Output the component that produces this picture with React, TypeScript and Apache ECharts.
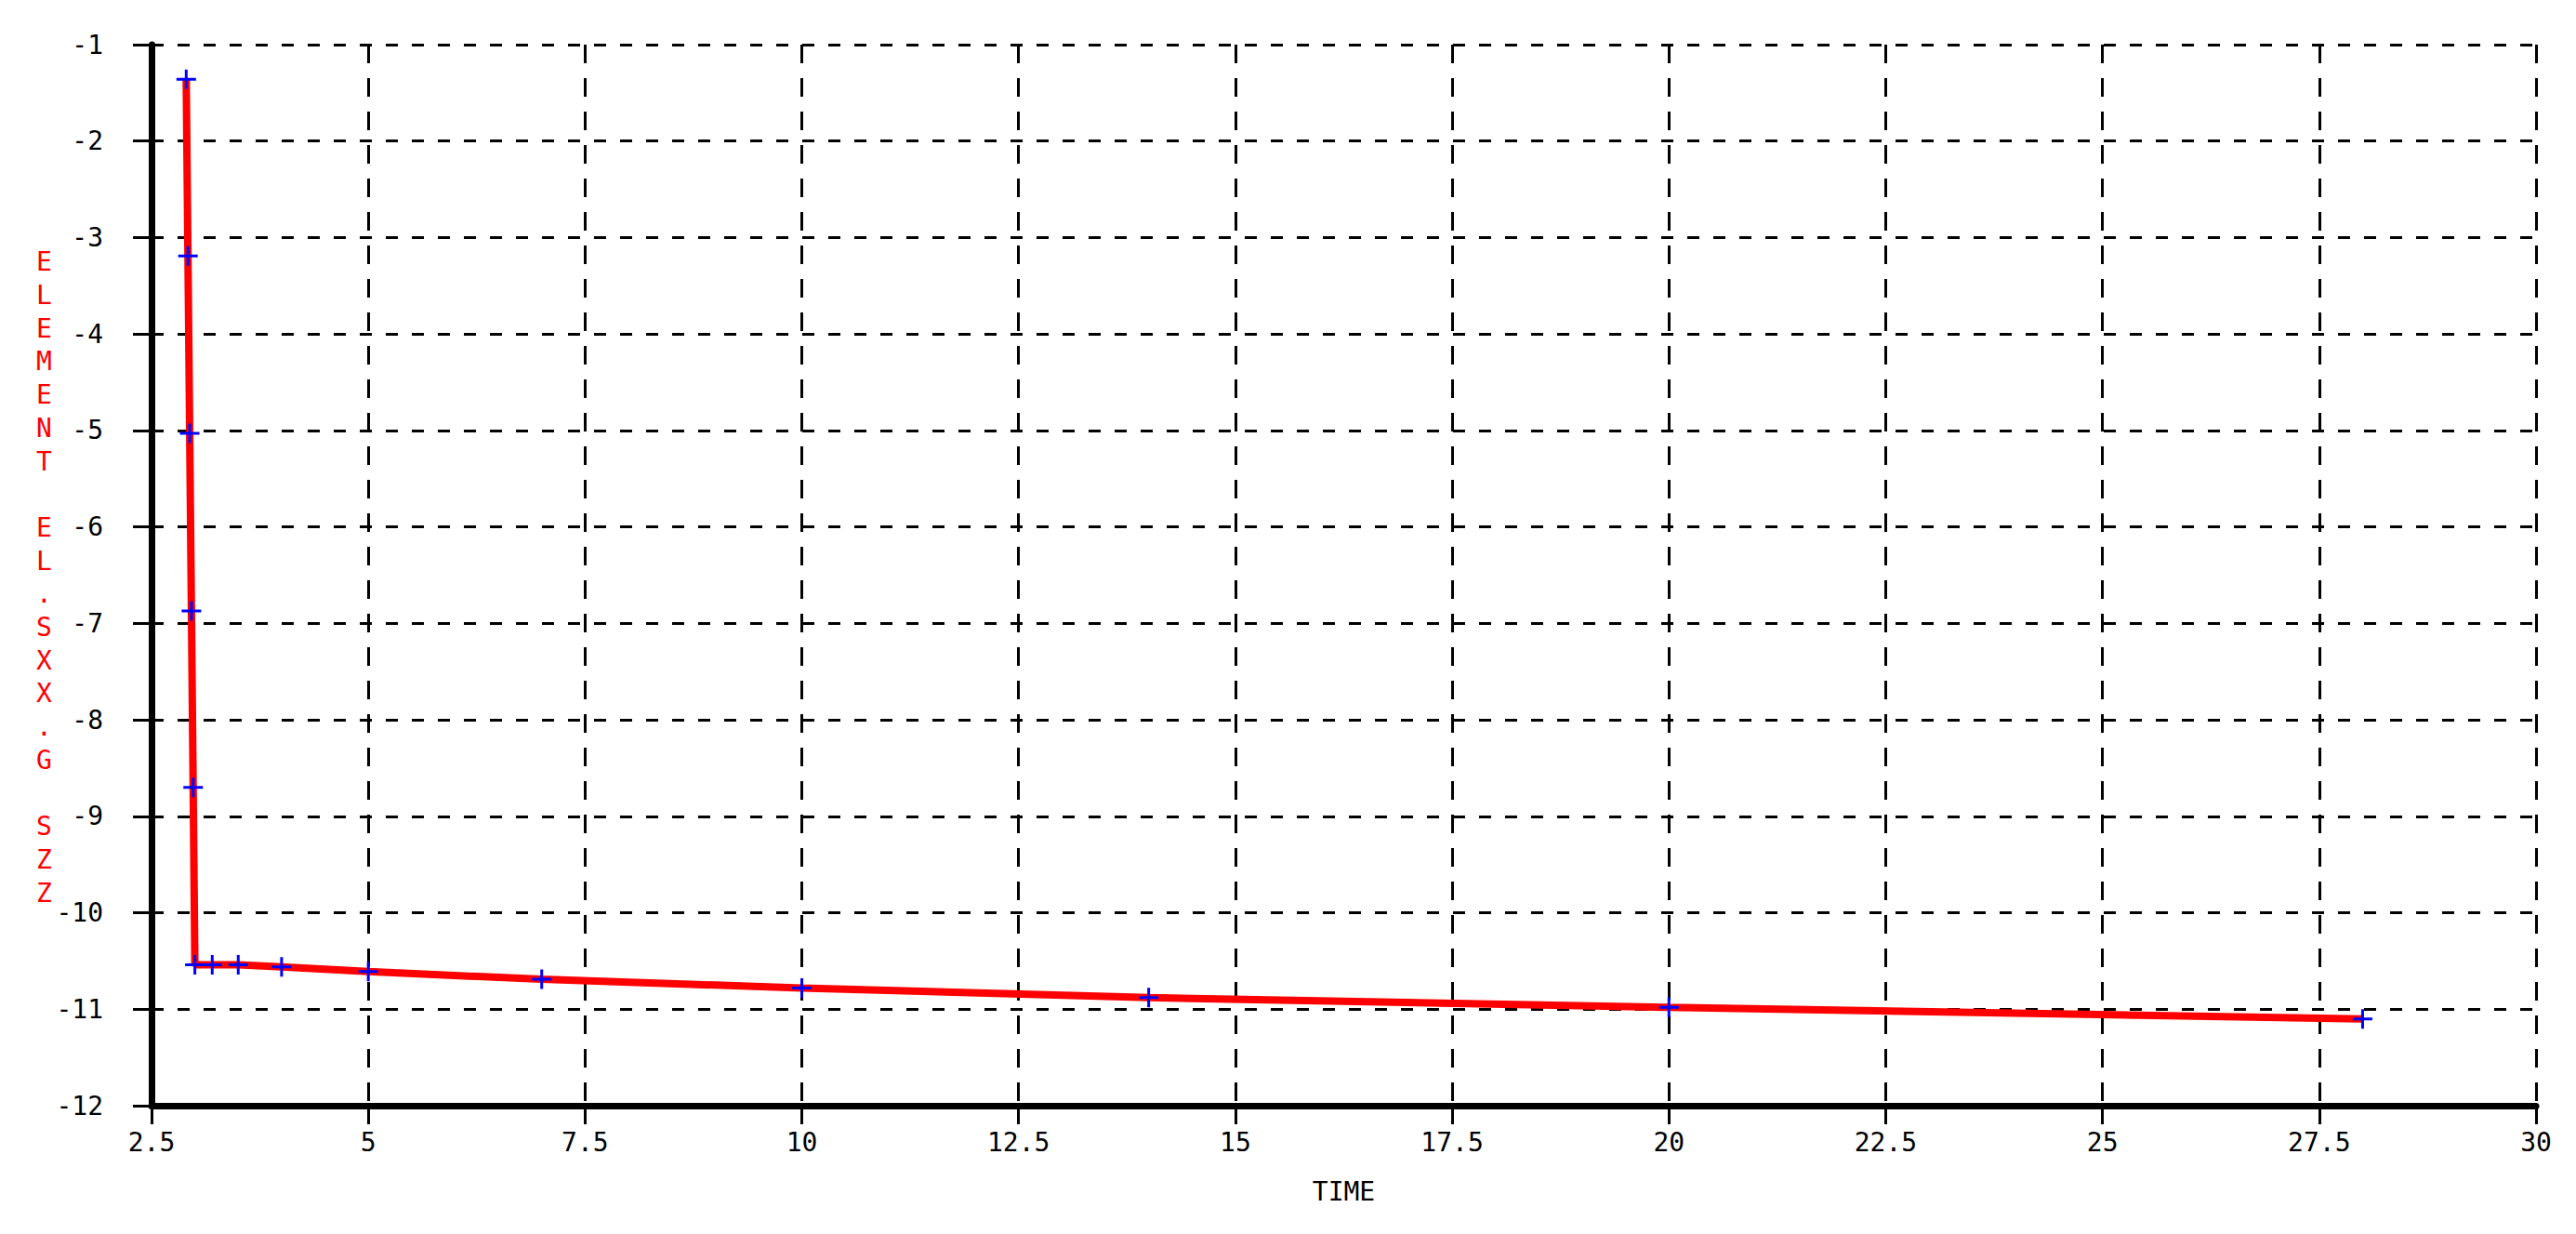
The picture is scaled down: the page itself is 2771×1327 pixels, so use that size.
import React, { useEffect, useRef } from "react";
import * as echarts from "echarts";

const timeValues = [2.9, 2.92, 2.94, 2.96, 2.98, 3.0, 3.2, 3.5, 4.0, 5.0, 7.0, 10.0, 14.0, 20.0, 28.0];
const szzValues = [-1.36, -3.19, -5.03, -6.87, -8.7, -10.54, -10.54, -10.54, -10.56, -10.61, -10.69, -10.78, -10.88, -10.98, -11.1];
const xTicks = { min: 2.5, max: 30, interval: 2.5 };
const yTicks = { min: -12, max: -1, interval: 1 };
const xName = "TIME";
const yName = "ELEMENT EL.SXX.G SZZ";

const FONT = "'DejaVu Sans Mono', 'Liberation Mono', monospace";

export default function App() {
  const ref = useRef<HTMLDivElement>(null);
  useEffect(() => {
    if (!ref.current) return;
    const chart = echarts.init(ref.current, null, { renderer: "svg" });
    const data = timeValues.map((t, i) => [t, szzValues[i]]);
    chart.setOption({
      animation: false,
      backgroundColor: "#ffffff",
      grid: { left: 163, right: 43, top: 48, bottom: 138, containLabel: false },
      xAxis: {
        type: "value",
        min: xTicks.min,
        max: xTicks.max,
        interval: xTicks.interval,
        name: xName,
        nameLocation: "middle",
        nameGap: 78,
        nameTextStyle: { fontFamily: FONT, fontSize: 28, color: "#000" },
        axisLine: { show: true, onZero: false, lineStyle: { color: "#000", width: 7 } },
        axisTick: { show: true, length: 20, lineStyle: { color: "#000", width: 3 } },
        axisLabel: { fontFamily: FONT, fontSize: 28, color: "#000", margin: 25 },
        splitLine: { show: true, lineStyle: { color: "#000", width: 3, type: [20, 16] } },
      },
      yAxis: {
        type: "value",
        min: yTicks.min,
        max: yTicks.max,
        interval: yTicks.interval,
        axisLine: { show: true, onZero: false, lineStyle: { color: "#000", width: 7 } },
        axisTick: { show: true, length: 20, lineStyle: { color: "#000", width: 3 } },
        axisLabel: { fontFamily: FONT, fontSize: 28, color: "#000", margin: 52 },
        splitLine: { show: true, lineStyle: { color: "#000", width: 3, type: [13, 15] } },
      },
      graphic: [
        {
          type: "text",
          left: 51 - 12,
          top: 621 - 357,
          style: {
            text: yName.split("").join("\n"),
            fontFamily: FONT,
            fontSize: 28,
            lineHeight: 35.7,
            fill: "#ff0000",
            align: "center",
          },
        },
      ],
      series: [
        {
          type: "line",
          data,
          lineStyle: { color: "#ff0000", width: 8 },
          symbol: "path://M0,9H21V12H0Z M9,0H12V21H9Z",
          symbolSize: 21,
          itemStyle: { color: "#0000ff" },
          z: 3,
        },
      ],
    });
    return () => chart.dispose();
  }, []);
  return (
    <div
      ref={ref}
      style={{ position: "absolute", left: 0, top: 0, width: 2771, height: 1327 }}
    />
  );
}
